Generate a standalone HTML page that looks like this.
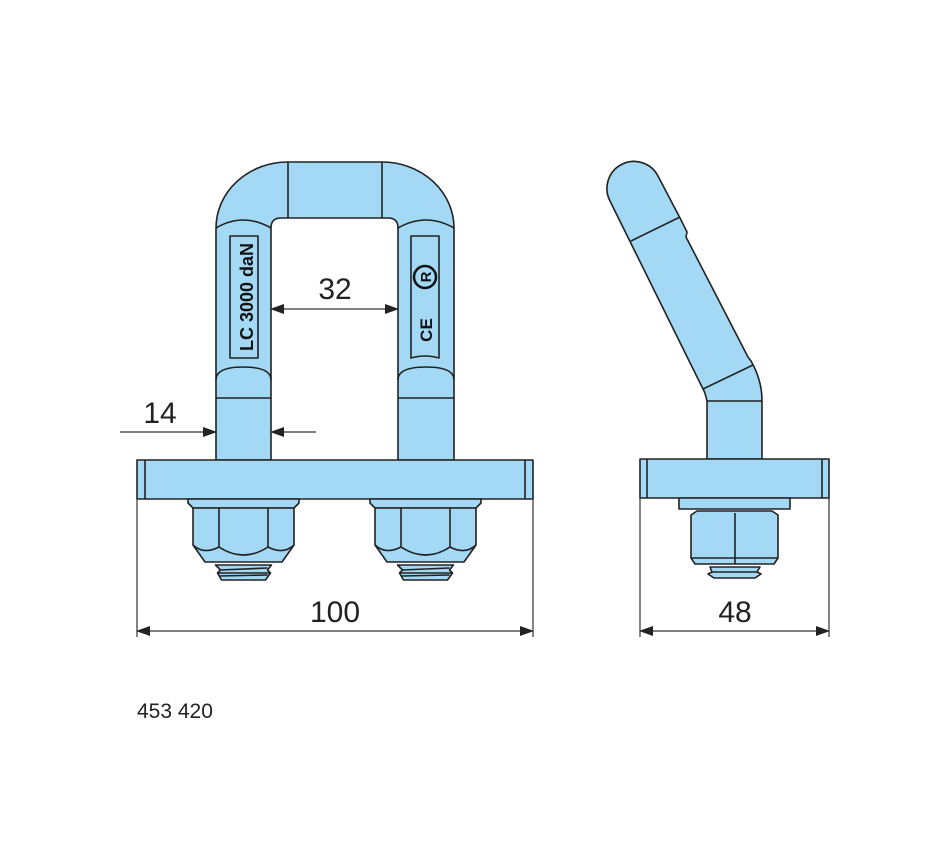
<!DOCTYPE html>
<html><head><meta charset="utf-8"><style>
html,body{margin:0;padding:0;background:#fff;}
svg{display:block;}
text{font-family:"Liberation Sans",sans-serif;}
</style></head><body>
<svg width="950" height="860" viewBox="0 0 950 860" xmlns="http://www.w3.org/2000/svg">
<defs>
<marker id="a" markerWidth="14" markerHeight="10" refX="13" refY="5" orient="auto" markerUnits="userSpaceOnUse"><path d="M0,0 L14,5 L0,10 z" fill="#222"/></marker>
<g id="nut" fill="#a3d9f5" stroke="#222" stroke-width="1.6" stroke-linejoin="round">
<path d="M-55.5,0 H55.5 V4 L50.5,9 H-50.5 L-55.5,4 Z"/>
<path d="M-50.5,9 H50.5 V46 L38.5,63 H-38.5 L-50.5,46 Z"/>
<line x1="-24.5" y1="9" x2="-24.5" y2="48"/><line x1="24.5" y1="9" x2="24.5" y2="48"/>
<path d="M-50.5,46 Q-40,56 -24.5,48 Q0,64 24.5,48 Q40,56 50.5,46" fill="none"/>
<path d="M-28,66 H28 L24,71 L27,74 L22,81 H-22 L-26,74 L-23,71 Z"/>
<line x1="-24" y1="71" x2="24" y2="69"/><line x1="-26" y1="74" x2="26" y2="74"/><line x1="-24" y1="77" x2="24" y2="76"/>
</g>
</defs>
<g fill="#a3d9f5" stroke="#222" stroke-width="1.6" stroke-linejoin="round">
<path d="M216,460 V228 A72,66 0 0 1 288,162 H382 A72,66 0 0 1 454,228 V460 H398 V228 Q398,218 388,218 H281 Q271,218 271,228 V460 Z"/>
<line x1="288" y1="162" x2="288" y2="218"/><line x1="382" y1="162" x2="382" y2="218"/>
<path d="M216,228 Q243,212 271,228" fill="none"/><path d="M398,228 Q426,212 454,228" fill="none"/>
<path d="M216,380 Q216,367 243,367 Q271,367 271,380" fill="none"/><path d="M398,380 Q398,367 426,367 Q454,367 454,380" fill="none"/>
<line x1="216" y1="398" x2="271" y2="398"/><line x1="398" y1="398" x2="454" y2="398"/>
<rect x="230" y="236" width="28" height="122"/>
<path d="M411,236 H439 V358 Q425,354 411,358 Z"/>
<rect x="137" y="460" width="396" height="39"/>
<line x1="145" y1="460" x2="145" y2="499"/><line x1="525" y1="460" x2="525" y2="499"/>
</g>
<use href="#nut" x="243.5" y="499"/>
<use href="#nut" x="425.5" y="499"/>
<text transform="translate(253,297) rotate(-90)" text-anchor="middle" font-size="18" font-weight="bold" fill="#111">LC 3000 daN</text>
<circle cx="425" cy="277" r="11" fill="none" stroke="#111" stroke-width="2.5"/>
<text transform="translate(431,277) rotate(-90)" text-anchor="middle" font-size="15" font-weight="bold" fill="#111">R</text>
<text transform="translate(432,330) rotate(-90)" text-anchor="middle" font-size="17" font-weight="bold" fill="#111">CE</text>
<g fill="#a3d9f5" stroke="#222" stroke-width="1.6" stroke-linejoin="round">
<path d="M707,459 V401 Q705,392 703,389 L610,201 A27,27 0 0 1 658,176 L680,218 L687,232 L686,237 L748,357 L751,361 Q762,380 762,401 V459 Z"/>
<line x1="631" y1="241" x2="680" y2="217"/>
<line x1="703" y1="389" x2="753" y2="365"/>
<line x1="707" y1="401" x2="762" y2="401"/>
<rect x="640" y="459" width="189" height="39"/>
<line x1="647" y1="459" x2="647" y2="498"/><line x1="822" y1="459" x2="822" y2="498"/>
<rect x="679" y="498" width="111" height="11"/>
<path d="M691,515 L697,511 H772 L778,515 V558 L774,564 H695 L691,558 Z"/>
<line x1="735" y1="513" x2="735" y2="564"/>
<line x1="691" y1="558" x2="778" y2="558"/>
<path d="M710,567 H760 L757,572 L761,574 L755,578 H714 L708,574 L712,572 Z"/>
<line x1="712" y1="572" x2="757" y2="572"/>
</g>
<g stroke="#333" stroke-width="1.2" fill="none">
<line x1="137" y1="499" x2="137" y2="637"/><line x1="533" y1="499" x2="533" y2="637"/>
<line x1="335" y1="631" x2="137" y2="631" marker-end="url(#a)"/><line x1="335" y1="631" x2="533" y2="631" marker-end="url(#a)"/>
<line x1="120" y1="432" x2="216" y2="432" marker-end="url(#a)"/>
<line x1="316" y1="432" x2="271" y2="432" marker-end="url(#a)"/>
<line x1="335" y1="309" x2="271" y2="309" marker-end="url(#a)"/><line x1="335" y1="309" x2="398" y2="309" marker-end="url(#a)"/>
<line x1="640" y1="498" x2="640" y2="637"/><line x1="829" y1="498" x2="829" y2="637"/>
<line x1="735" y1="631" x2="640" y2="631" marker-end="url(#a)"/><line x1="735" y1="631" x2="829" y2="631" marker-end="url(#a)"/>
</g>
<g fill="#222" font-size="30" text-anchor="middle">
<text x="335" y="622">100</text>
<text x="160" y="423">14</text>
<text x="335" y="299">32</text>
<text x="735" y="622">48</text>
</g>
<text x="137" y="718" font-size="21" fill="#222">453 420</text>
</svg>
</body></html>
